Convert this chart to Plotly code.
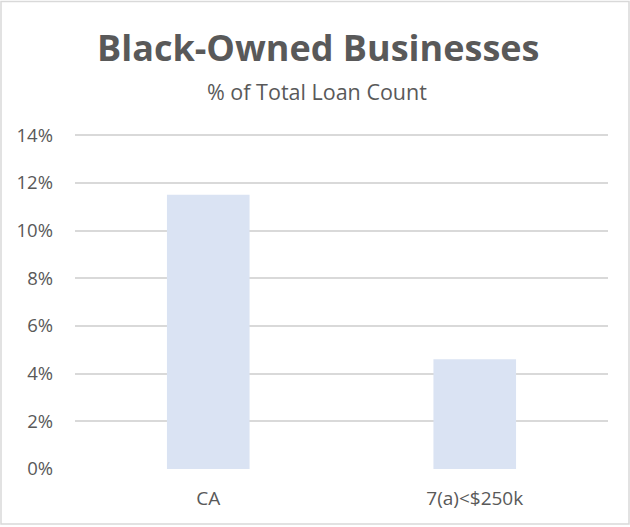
import plotly.graph_objects as go

categories = ["CA", "7(a)<$250k"]
values = [11.5, 4.6]
tick_vals = [0, 2, 4, 6, 8, 10, 12, 14]
tick_text = ["0%", "2%", "4%", "6%", "8%", "10%", "12%", "14%"]
title_text = "Black-Owned Businesses"
subtitle_text = "% of Total Loan Count"

W, H = 630, 527
L, R, T, B = 75, 22, 128, 58
pw, ph = W - L - R, H - T - B

def px_x(x):
    return (x - L) / pw

def px_y(y):
    return (H - B - y) / ph

grey = "#595959"
font = "Open Sans"

fig = go.Figure(go.Bar(
    x=categories, y=values,
    marker=dict(color="#DAE3F3", line=dict(width=0)),
    hoverinfo="x+y",
))

fig.update_layout(
    width=W, height=H,
    margin=dict(l=L, r=R, t=T, b=B, pad=0),
    paper_bgcolor="white", plot_bgcolor="white",
    bargap=0.69,
    showlegend=False,
    font=dict(family=font, color=grey, size=19),
    xaxis=dict(
        showgrid=False, zeroline=False, showline=False,
        ticks="", tickfont=dict(size=19, color=grey),
        ticklabelstandoff=16,
    ),
    yaxis=dict(
        range=[0, 14.3], tickvals=tick_vals, ticktext=tick_text,
        showgrid=True, gridcolor="#D9D9D9", gridwidth=1.5,
        zeroline=False, showline=False, ticks="",
        tickfont=dict(size=18.5, color=grey),
        ticklabelstandoff=21,
    ),
    annotations=[
        dict(text="<b>" + title_text + "</b>", xref="paper", yref="paper",
             x=px_x(318), y=px_y(47), xanchor="center", yanchor="middle",
             showarrow=False, font=dict(family=font, size=36, color=grey)),
        dict(text=subtitle_text, xref="paper", yref="paper",
             x=px_x(316.5), y=px_y(91), xanchor="center", yanchor="middle",
             showarrow=False, font=dict(family=font, size=21.5, color=grey)),
    ],
    shapes=[
        dict(type="rect", xref="paper", yref="paper",
             x0=px_x(1), x1=px_x(629), y0=px_y(524), y1=px_y(1.5),
             line=dict(color="#D9D9D9", width=1.5), fillcolor="rgba(0,0,0,0)",
             layer="below"),
    ],
)

fig.write_html("out.html",
               config={"displayModeBar": False},
               post_script="document.body.style.margin='0';document.body.style.overflow='hidden';")
